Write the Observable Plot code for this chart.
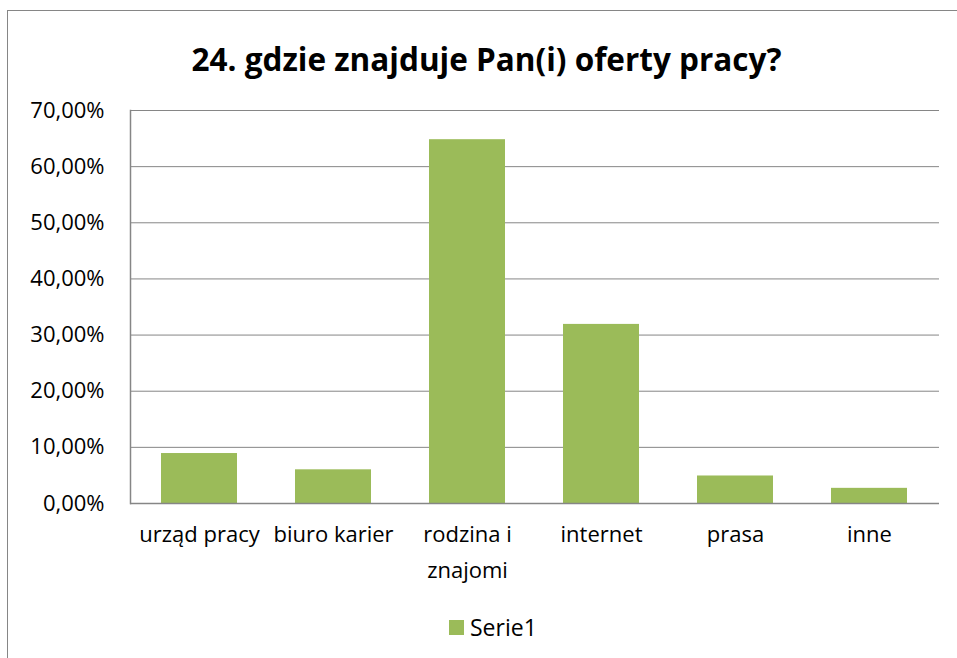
<!DOCTYPE html>
<html>
<head>
<meta charset="utf-8">
<script src="https://cdn.jsdelivr.net/npm/d3@7"></script>
<script src="https://cdn.jsdelivr.net/npm/@observablehq/plot@0.6"></script>
<style>
  html, body { margin: 0; padding: 0; background: #fff; width: 957px; height: 658px; overflow: hidden; }
  #frame { position: absolute; left: 7px; top: 10px; width: 1000px; height: 700px; border-left: 1.5px solid #868686; border-top: 1.5px solid #868686; box-sizing: border-box; }
  #title { position: absolute; left: 0; top: 39px; width: 973px; text-align: center; font-family: "Open Sans", sans-serif; font-weight: bold; font-size: 31.5px; color: #000; line-height: 40px; }
  #chart { position: absolute; left: 0; top: 90px; }
  #legend { position: absolute; left: 449px; top: 612px; font-family: "Open Sans", sans-serif; font-size: 23px; color: #000; display: flex; align-items: center; height: 30px; }
  #legend .sw { width: 15px; height: 15px; background: #9BBB59; margin-right: 6px; }
</style>
</head>
<body>
<div id="frame"></div>
<div id="title">24. gdzie znajduje Pan(i) oferty pracy?</div>
<div id="chart"></div>
<div id="legend"><div class="sw"></div><span>Serie1</span></div>
<script>
const categories = ["urząd pracy", "biuro karier", "rodzina i znajomi", "internet", "prasa", "inne"];
const tickLabels = ["urząd pracy", "biuro karier", "rodzina i\nznajomi", "internet", "prasa", "inne"];
const values = [8.9, 6.0, 64.8, 31.9, 4.9, 2.7];
const yTicks = [0, 10, 20, 30, 40, 50, 60, 70];

const data = categories.map((c, i) => ({category: c, value: values[i]}));
const labelOf = new Map(categories.map((c, i) => [c, tickLabels[i]]));
const gray = "#868686";

const marks = [
  Plot.gridY(yTicks, {stroke: gray, strokeOpacity: 1, strokeWidth: 1}),
  Plot.barY(data, {x: "category", y: "value", fill: "#9BBB59"}),
  Plot.ruleY([0], {stroke: gray, strokeWidth: 1.5}),
  Plot.axisY(yTicks, {tickSize: 0, tickPadding: 26, tickFormat: d => d.toFixed(2).replace(".", ",") + "%", fontSize: 22, fill: "#000", label: null}),
  Plot.axisX({tickSize: 0, tickPadding: 14, tickFormat: d => labelOf.get(d), fontSize: 22, fill: "#000", label: null, lineHeight: 1.6})
];
try { marks.push(Plot.frame({anchor: "left", stroke: gray, strokeWidth: 1.5})); } catch (e) {}

const chart = Plot.plot({
  width: 957,
  height: 500,
  marginLeft: 130,
  marginRight: 18,
  marginTop: 20,
  marginBottom: 87,
  style: {fontFamily: "'Open Sans', sans-serif", fontSize: "22px", background: "transparent", color: "#000"},
  x: {domain: categories, paddingInner: 0.43, paddingOuter: 0.215},
  y: {domain: [0, 70]},
  marks
});
document.getElementById("chart").appendChild(chart);
</script>
</body>
</html>
